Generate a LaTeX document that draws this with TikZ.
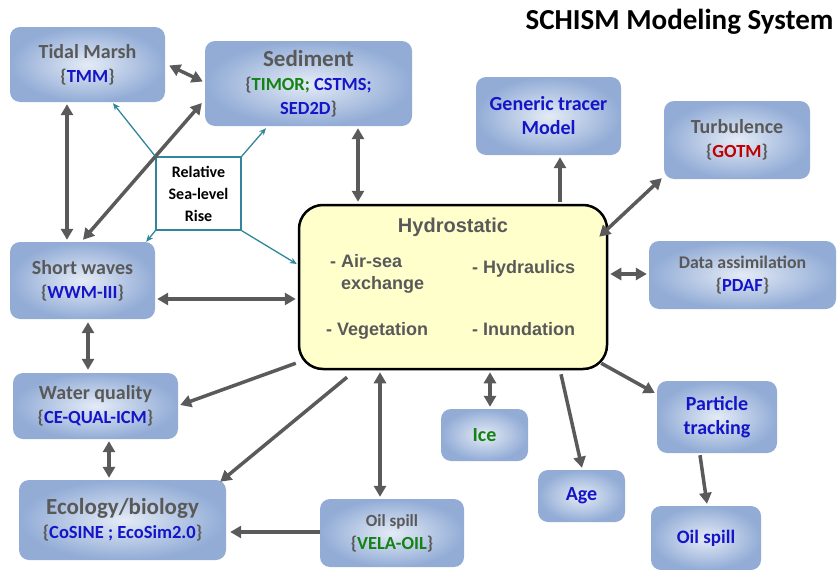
\documentclass[tikz,border=0pt]{standalone}
\usepackage{fontspec}
\setmainfont{Carlito}
\newfontfamily\arialf{Liberation Sans}
\usetikzlibrary{arrows.meta}
\definecolor{boxin}{RGB}{228,235,246}
\definecolor{boxout}{RGB}{146,172,214}
\definecolor{txtgray}{RGB}{89,89,89}
\definecolor{txtblue}{RGB}{20,20,200}
\definecolor{txtgreen}{RGB}{20,130,20}
\definecolor{txtred}{RGB}{192,0,0}
\definecolor{arrgray}{RGB}{90,90,90}
\definecolor{tealc}{RGB}{49,134,155}
\definecolor{hydfill}{RGB}{255,255,204}
\tikzset{
  box/.style={rounded corners=10pt, inner color=boxin, outer color=boxout, align=center, text=txtgray,
    font=\fontsize{20}{24}\selectfont\bfseries},
  garrow/.style={draw=arrgray, line width=3.5pt, -{Triangle[length=11pt,width=12pt]}},
  gdarrow/.style={draw=arrgray, line width=3.5pt, {Triangle[length=11pt,width=12pt]}-{Triangle[length=11pt,width=12pt]}},
  tarrow/.style={draw=tealc, line width=1.3pt, -{Stealth[length=7pt,width=6pt]}},
  hytext/.style={font=\arialf\fontsize{18}{22}\selectfont\bfseries, text=txtgray, inner sep=0pt},
}
\newcommand{\cd}{\fontsize{18.5}{24}\selectfont}
\newcommand{\bl}[1]{\textcolor{txtblue}{#1}}
\newcommand{\gr}[1]{\textcolor{txtgreen}{#1}}
\newcommand{\rd}[1]{\textcolor{txtred}{#1}}
\begin{document}
\begin{tikzpicture}[x=1pt,y=-1pt]
\useasboundingbox (0,0) rectangle (838,570);
\node[font=\fontsize{29}{32}\selectfont\bfseries, anchor=east] (title) at (837,22) {SCHISM Modeling System};

% boxes
\node[box, minimum width=155pt, minimum height=75pt] (tm) at (87.5,64.5) {Tidal Marsh\\{\cd\{\bl{TMM}\}}};
\node[box, minimum width=207pt, minimum height=85pt] (sed) at (308.5,83.5)
  {{\fontsize{23}{24}\selectfont Sediment}\\{\cd\{\gr{TIMOR;} \bl{CSTMS;}}\\{\cd\bl{SED2D}\}}};
\node[draw=tealc, line width=1.3pt, fill=white, minimum width=85pt, minimum height=73pt, align=center,
  font=\fontsize{16}{22}\selectfont\bfseries] (rsl) at (198.5,193.5) {Relative\\Sea-level\\Rise};
\node[box, minimum width=145pt, minimum height=77pt] (sw) at (82.5,280.5) {Short waves\\{\cd\{\bl{WWM-III}\}}};
\node[box, minimum width=165pt, minimum height=66pt] (wq) at (95.5,406) {Water quality\\{\cd\{\bl{CE-QUAL-ICM}\}}};
\node[box, minimum width=207pt, minimum height=80pt] (eco) at (122.5,520)
  {{\fontsize{23}{24}\selectfont Ecology/biology}\\{\cd\{\bl{CoSINE ; EcoSim2.0}\}}};
\node[draw=black, line width=2.5pt, fill=hydfill, rounded corners=24pt, minimum width=308pt, minimum height=164pt] (hyd) at (453,287) {};
\node[box, text=txtblue, minimum width=145pt, minimum height=78pt] (gt) at (548.5,116) {Generic tracer\\Model};
\node[box, minimum width=146pt, minimum height=78pt] (tur) at (737,140) {Turbulence\\{\cd\{\rd{GOTM}\}}};
\node[box, minimum width=187pt, minimum height=68pt, font=\fontsize{17.8}{23}\selectfont\bfseries] (da) at (742.5,275) {Data assimilation\\{\cd\{\bl{PDAF}\}}};
\node[box, text=txtblue, minimum width=120pt, minimum height=72pt] (pt) at (717,417) {Particle\\tracking};
\node[box, text=txtblue, minimum width=110pt, minimum height=64pt, font=\fontsize{19}{24}\selectfont\bfseries] (os2) at (706,538) {Oil spill};
\node[box, text=txtblue, minimum width=87pt, minimum height=52pt] (age) at (581.5,496) {Age};
\node[box, text=txtgreen, minimum width=87pt, minimum height=52pt] (ice) at (484.5,435) {Ice};
\node[box, minimum width=144pt, minimum height=68pt, font=\fontsize{17}{23}\selectfont\bfseries] (os1) at (392,533) {Oil spill\\{\cd\{\gr{VELA-OIL}\}}};

% hydrostatic contents
\node[hytext, font=\arialf\fontsize{20}{22}\selectfont\bfseries] (hyt) at (453,227) {Hydrostatic};
\node[hytext, anchor=west, align=left] (h1) at (330,274) {- Air-sea\\\phantom{- }exchange};
\node[hytext, anchor=west] (h2) at (472,269) {- Hydraulics};
\node[hytext, anchor=west] (h3) at (326,331) {- Vegetation};
\node[hytext, anchor=west] (h4) at (472,329) {- Inundation};

% gray connectors
\draw[gdarrow] ([shift={(4,1)}]tm.east) -- ([shift={(-2,-2)}]sed.west);
\draw[gdarrow] ([shift={(-20.5,2)}]tm.south) -- ([shift={(-15.5,-2)}]sw.north);
\draw[gdarrow] ([shift={(-3,19.5)}]sed.west) -- ([shift={(0.5,-2)}]sw.north);
\draw[gdarrow] ([shift={(49.5,2)}]sed.south) -- ([shift={(-95,-2)}]hyd.north);
\draw[gdarrow] ([shift={(2,18.5)}]sw.east) -- ([shift={(-2,12)}]hyd.west);
\draw[gdarrow] ([shift={(5.5,3)}]sw.south) -- ([shift={(-7.5,-3)}]wq.north);
\draw[garrow] ([shift={(-2,-7)}]hyd.south west) -- ([shift={(2,-1)}]wq.east);
\draw[garrow] ([shift={(-106,7)}]hyd.south) -- ([shift={(-6,2)}]eco.north east);
\draw[gdarrow] ([shift={(13.5,2)}]wq.south) -- ([shift={(-13.5,-2)}]eco.north);
\draw[garrow] ([shift={(0,-1)}]os1.west) -- ([shift={(4,12)}]eco.east);
\draw[gdarrow] ([shift={(-73,2)}]hyd.south) -- ([shift={(-12,-2)}]os1.north);
\draw[gdarrow] ([shift={(37,2)}]hyd.south) -- ([shift={(5.5,-2)}]ice.north);
\draw[garrow] ([shift={(108,4)}]hyd.south) -- ([shift={(0.5,-2)}]age.north);
\draw[garrow] ([shift={(-7,-7)}]hyd.south east) -- ([shift={(-2,-24)}]pt.west);
\draw[garrow] ([shift={(-17,2)}]pt.south) -- ([shift={(1,-2)}]os2.north);
\draw[garrow] ([shift={(107,-2)}]hyd.north) -- ([shift={(11.5,2)}]gt.south);
\draw[gdarrow] ([shift={(-9,33)}]hyd.north east) -- ([shift={(-2,-1)}]tur.south west);
\draw[gdarrow] ([shift={(2,-13)}]hyd.east) -- ([shift={(-2,-1)}]da.west);

% teal connectors
\draw[tarrow] (rsl.north west) -- ([shift={(25.5,1)}]tm.south);
\draw[tarrow] (rsl.north east) -- ([shift={(-42.5,2)}]sed.south);
\draw[tarrow] (rsl.south west) -- ([shift={(-9,0)}]sw.north east);
\draw[tarrow] (rsl.south east) -- ([shift={(-1,-23)}]hyd.west);
\end{tikzpicture}
\end{document}
